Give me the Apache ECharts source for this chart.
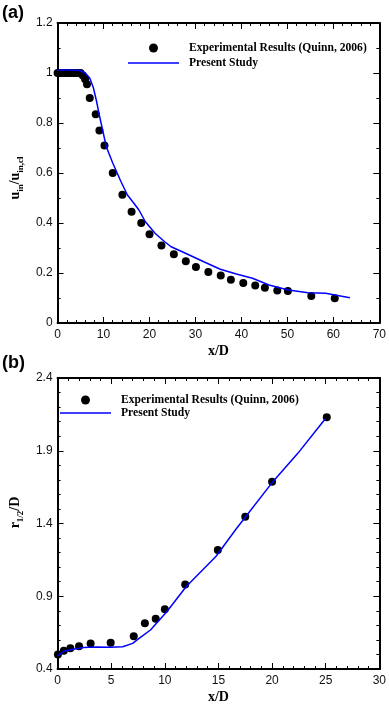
<!DOCTYPE html>
<html>
<head>
<meta charset="utf-8">
<script src="https://cdn.jsdelivr.net/npm/echarts@6/dist/echarts.min.js"></script>
<style>
  html, body { margin: 0; padding: 0; background: #fff; }
  #main { width: 389px; height: 705px; }
</style>
</head>
<body>
<div id="main"></div>
<script>
// panel (a): centreline velocity decay
var expA = [[0,1],[0.5,1],[1,1],[1.5,1],[2,1],[2.5,1],[3,1],[3.5,1],[4,1],[4.5,1],[5,1],[5.5,0.99],[6,0.975],[6.4,0.955],
    [7,0.9],[8.3,0.835],[9.1,0.77],[10.2,0.71],[12,0.6],[14.1,0.513],[16.1,0.445],[18.2,0.4],[20,0.355],[22.6,0.31],
    [25.3,0.275],[27.9,0.247],[30.1,0.224],[32.8,0.204],[35.5,0.19],[37.7,0.173],[40.4,0.16],[43,0.15],[45.1,0.141],
    [47.8,0.13],[50.1,0.128],[55.2,0.108],[60.3,0.099]];
var simA = [[0,1.012],[3,1.012],[5,1.01],[6,1.0],[7,0.98],[7.8,0.94],[8.5,0.885],[9.1,0.83],[10.6,0.705],[12,0.64],
    [13.8,0.565],[15.2,0.512],[16.6,0.479],[17.7,0.452],[19.1,0.405],[21.2,0.359],[23.3,0.325],[24.7,0.305],[27.6,0.281],
    [31.8,0.245],[35.4,0.215],[38.9,0.196],[42.4,0.179],[46,0.152],[50.2,0.132],[54.5,0.121],[58.3,0.119],[63.6,0.101]];

// panel (b): jet half-width
var expB = [[0.03,0.5],[0.58,0.525],[1.19,0.542],[2,0.556],[3.08,0.576],[4.95,0.58],[7.1,0.625],[8.14,0.714],
    [9.15,0.746],[10,0.81],[11.9,0.98],[14.94,1.218],[17.5,1.447],[20,1.687],[25.1,2.13]];
var simB = [[0,0.49],[0.58,0.522],[1.19,0.533],[2.4,0.548],[3.63,0.552],[4.85,0.549],[6.07,0.553],[7,0.576],[7.6,0.61],
    [8.66,0.668],[10.2,0.795],[12,0.967],[14.76,1.173],[16.7,1.367],[19.95,1.676],[22.4,1.882],[24.8,2.105],[25,2.12]];

var yTicksB = [0.4, 0.9, 1.4, 1.9, 2.4];

var expName = 'Experimental Results (Quinn, 2006)';
var simName = 'Present Study';

var sans = 'Liberation Sans, Arial, sans-serif';
var serif = 'Liberation Serif, Times New Roman, serif';
var lineIcon = 'path://M0,0 L51,0 L51,1.5 L0,1.5 Z';

function frameAxis(grid, pos, min, max, interval, minorSplit, extra) {
    var ax = {
        type: 'value',
        gridIndex: grid,
        position: pos,
        min: min,
        max: max,
        interval: interval,
        splitLine: { show: false },
        axisLine: { show: true, onZero: false, lineStyle: { color: '#000', width: 2 } },
        axisTick: { show: true, inside: true, length: 6, lineStyle: { color: '#000', width: 1 } },
        minorTick: { show: minorSplit > 0, splitNumber: minorSplit || 5, length: 3, lineStyle: { color: '#000', width: 1 } },
        axisLabel: { show: false }
    };
    for (var k in extra) ax[k] = extra[k];
    return ax;
}

var tickLabel = { show: true, color: '#111', fontSize: 12, fontFamily: sans };
var legendText = { fontFamily: serif, fontWeight: 'bold', fontSize: 11.6, color: '#000', padding: [0, 0, 0, 5] };

var myChart = echarts.init(document.getElementById('main'));
var option = {
    animation: false,
    grid: [
        { left: 50, top: 23, width: 330, height: 300 },
        { left: 52, top: 378, width: 328, height: 291 }
    ],
    graphic: [
        { type: 'text', left: 2, top: 4, style: { text: '(a)', font: 'bold 18px ' + sans, fill: '#000' } },
        { type: 'text', left: 2, top: 354, style: { text: '(b)', font: 'bold 18px ' + sans, fill: '#000' } }
    ],
    legend: [
        {
            orient: 'vertical', left: 128, top: 42, padding: 0, itemWidth: 51, itemHeight: 9, itemGap: 3,
            textStyle: legendText,
            data: [{ name: expName, icon: 'circle' }, { name: simName, icon: lineIcon }]
        },
        {
            orient: 'vertical', left: 60, top: 394, padding: 0, itemWidth: 51, itemHeight: 9, itemGap: 1,
            textStyle: legendText,
            data: [{ name: expName, icon: 'circle' }, { name: simName, icon: lineIcon }]
        }
    ],
    xAxis: [
        frameAxis(0, 'bottom', 0, 70, 10, 5, {
            axisLabel: Object.assign({ margin: 6 }, tickLabel),
            name: 'x/D', nameLocation: 'middle', nameGap: 21,
            nameTextStyle: { fontFamily: serif, fontWeight: 'bold', fontSize: 14, color: '#000' }
        }),
        frameAxis(0, 'top', 0, 70, 10, 5, {}),
        frameAxis(1, 'bottom', 0, 30, 5, 5, {
            axisLabel: Object.assign({ margin: 6 }, tickLabel),
            name: 'x/D', nameLocation: 'middle', nameGap: 21,
            nameTextStyle: { fontFamily: serif, fontWeight: 'bold', fontSize: 14, color: '#000' }
        }),
        frameAxis(1, 'top', 0, 30, 5, 5, {})
    ],
    yAxis: [
        frameAxis(0, 'left', 0, 1.2, 0.2, 2, {
            axisLabel: Object.assign({ margin: 5 }, tickLabel),
            name: '{m|u}{s|in}{m|/u}{s|in,cl}', nameLocation: 'middle', nameGap: 28,
            nameTextStyle: {
                padding: [0, 10, 0, 0],
                rich: {
                    m: { fontFamily: serif, fontWeight: 'bold', fontSize: 14, color: '#000', lineHeight: 20, verticalAlign: 'middle' },
                    s: { fontFamily: serif, fontWeight: 'bold', fontSize: 9, color: '#000', lineHeight: 20, verticalAlign: 'bottom' }
                }
            }
        }),
        frameAxis(0, 'right', 0, 1.2, 0.2, 2, {}),
        // panel (b) left: minor ticks every 0.1, labels on the 0.5 steps
        frameAxis(1, 'left', 0.4, 2.4, 0.1, 0, {
            axisTick: { show: true, inside: true, length: 3, lineStyle: { color: '#000', width: 1 } },
            axisLabel: Object.assign({ margin: 5, customValues: yTicksB }, tickLabel),
            name: '{m|r}{s|1/2}{m|/D}', nameLocation: 'middle', nameGap: 28,
            nameTextStyle: {
                padding: [0, 0, 0, 22],
                rich: {
                    m: { fontFamily: serif, fontWeight: 'bold', fontSize: 14, color: '#000', lineHeight: 20, verticalAlign: 'middle' },
                    s: { fontFamily: serif, fontWeight: 'bold', fontSize: 9, color: '#000', lineHeight: 20, verticalAlign: 'bottom' }
                }
            }
        }),
        frameAxis(1, 'left', 0.4, 2.4, 0.1, 0, {
            axisTick: { show: true, inside: true, length: 6, customValues: yTicksB, lineStyle: { color: '#000', width: 1 } }
        }),
        frameAxis(1, 'right', 0.4, 2.4, 0.1, 0, {
            axisTick: { show: true, inside: true, length: 3, lineStyle: { color: '#000', width: 1 } }
        }),
        frameAxis(1, 'right', 0.4, 2.4, 0.1, 0, {
            axisTick: { show: true, inside: true, length: 6, customValues: yTicksB, lineStyle: { color: '#000', width: 1 } }
        })
    ],
    series: [
        {
            name: expName, type: 'scatter', xAxisIndex: 0, yAxisIndex: 0,
            symbolSize: 8, itemStyle: { color: '#000', opacity: 1 }, data: expA, z: 3
        },
        {
            name: simName, type: 'line', xAxisIndex: 0, yAxisIndex: 0, symbol: 'none',
            lineStyle: { color: '#0000ff', width: 1.5 }, itemStyle: { color: '#0000ff' }, data: simA, z: 4
        },
        {
            name: expName, type: 'scatter', xAxisIndex: 2, yAxisIndex: 2,
            symbolSize: 8, itemStyle: { color: '#000', opacity: 1 }, data: expB, z: 3
        },
        {
            name: simName, type: 'line', xAxisIndex: 2, yAxisIndex: 2, symbol: 'none',
            lineStyle: { color: '#0000ff', width: 1.5 }, itemStyle: { color: '#0000ff' }, data: simB, z: 4
        }
    ]
};
myChart.setOption(option);
</script>
</body>
</html>
